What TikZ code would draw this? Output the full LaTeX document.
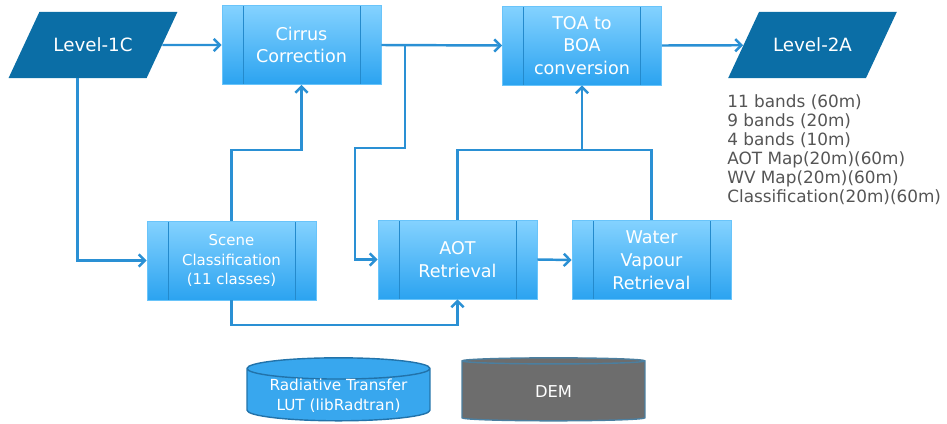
\documentclass[tikz,border=0pt]{standalone}
\usepackage{fontspec}
\setmainfont{DejaVu Sans}
\usetikzlibrary{shapes.geometric,arrows.meta}
\definecolor{flowblue}{HTML}{2A90D4}
\definecolor{boxtop}{HTML}{84D2FF}
\definecolor{boxbot}{HTML}{2BA3F0}
\definecolor{levelblue}{HTML}{0B6EA6}
\definecolor{lutblue}{HTML}{38A7EE}
\definecolor{demgrey}{HTML}{6D6D6D}
\definecolor{listgrey}{HTML}{555555}

\begin{document}
\begin{tikzpicture}[x=0.02cm,y=-0.02cm,
  flow/.style={draw=flowblue,line width=1.4pt,-{Straight Barb[length=3.5pt,width=7pt]}},
  line/.style={draw=flowblue,line width=1.4pt},
  proc/.style={rectangle,draw=boxtop!70!boxbot,top color=boxtop,bottom color=boxbot,text=white,
    minimum width=3.18cm,minimum height=1.58cm,align=center,inner sep=1pt,
    font=\fontsize{10}{13}\selectfont,
    path picture={\draw[boxbot!85!black,line width=0.4pt]
      ([xshift=0.42cm]path picture bounding box.north west) -- ([xshift=0.42cm]path picture bounding box.south west)
      ([xshift=-0.42cm]path picture bounding box.north east) -- ([xshift=-0.42cm]path picture bounding box.south east);}},
  level/.style={trapezium,trapezium left angle=65,trapezium right angle=115,trapezium stretches body=true,
    fill=levelblue,text=white,inner xsep=0.28cm,inner ysep=14.8pt,
    font=\fontsize{10.4}{12}\selectfont},
  store/.style={cylinder,shape border rotate=90,aspect=0.15,minimum width=3.66cm,minimum height=1.26cm,
    cylinder uses custom fill,text=white,align=center,inner xsep=1pt,inner ysep=0pt,line width=0.8pt}]
  \useasboundingbox (0,0) rectangle (947,423);

  \node[level] (l1c) at (93,45) {Level-1C};
  \node[proc] (cirrus) at (301.5,45) {Cirrus\\Correction};
  \node[proc] (toa) at (582,45.5) {TOA to\\BOA\\conversion};
  \node[level] (l2a) at (812.5,45) {Level-2A};
  \node[proc,minimum width=3.38cm,font=\fontsize{8.5}{11.3}\selectfont] (scene) at (231.5,260.5) {Scene\\Classification\\(11 classes)};
  \node[proc] (aot) at (457.5,259.5) {AOT\\Retrieval};
  \node[proc] (wv) at (651.5,260) {Water\\Vapour\\Retrieval};
  \node[store,draw=flowblue!80!black,cylinder body fill=lutblue,cylinder end fill=lutblue,inner ysep=-0.04cm,
    font=\fontsize{8.7}{11.3}\selectfont] (lut) at (338.5,396) {Radiative Transfer\\LUT (libRadtran)};
  \node[store,draw=demgrey!50!flowblue,cylinder body fill=demgrey,cylinder end fill=demgrey,
    font=\fontsize{9.3}{11}\selectfont] (dem) at (553.5,391.5) {DEM};
  \node[anchor=north west,inner sep=0pt,align=left,text=listgrey,
    font=\fontsize{9.6}{10.9}\selectfont] (bands) at (727,94)
    {11 bands (60m)\\9 bands (20m)\\4 bands (10m)\\AOT Map(20m)(60m)\\WV Map(20m)(60m)\\Classification(20m)(60m)};

  \coordinate (split) at (405,45);
  \coordinate (join) at (toa.south |- 0,150);
  \draw[flow] (l1c.east) -- (cirrus.west);
  \draw[flow] (l1c.bottom side) |- (scene.west);
  \draw[flow] (scene.north) -- (scene.north |- 0,150) -| (cirrus.south);
  \draw[flow] (cirrus.east) -- (toa.west);
  \draw[flow] (split) |- (355,148) |- (aot.west);
  \draw[flow] (scene.south) -- (scene.south |- 0,325) -| (aot.south);
  \draw[flow] (aot.east) -- (wv.west);
  \draw[line] (aot.north) |- (join) -| (wv.north);
  \draw[flow] (join) -- (toa.south);
  \draw[flow] (toa.east) -- (l2a);
\end{tikzpicture}
\end{document}
